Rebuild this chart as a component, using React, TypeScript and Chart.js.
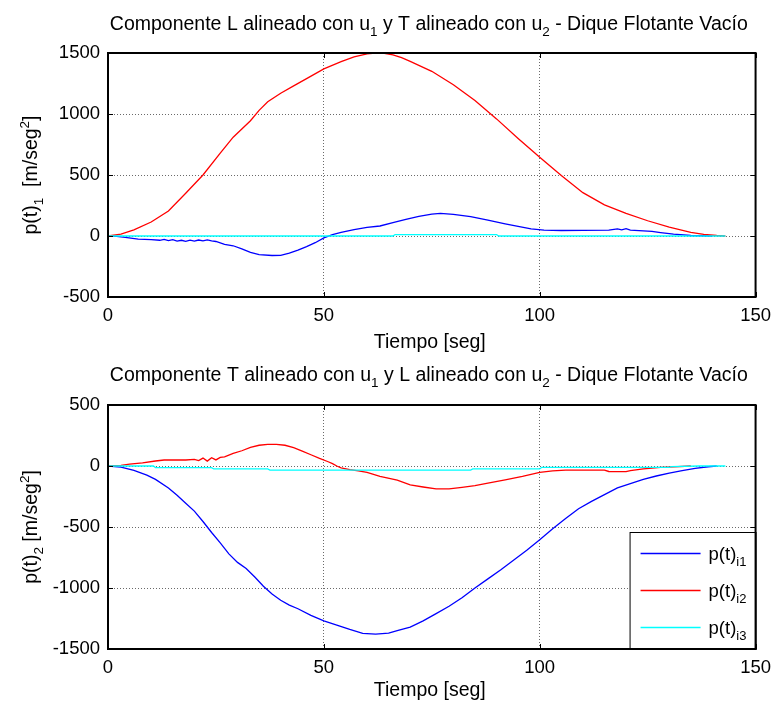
import React, { useEffect, useRef } from 'react';
import { Chart, registerables } from 'chart.js';

Chart.register(...registerables);

const FONT = '"Liberation Sans", Arial, Helvetica, sans-serif';

// ---------- axis ticks ----------
const xTickValues = [0, 50, 100, 150];
const topYTicks = [-500, 0, 500, 1000, 1500];
const bottomYTicks = [-1500, -1000, -500, 0, 500];

// ---------- top plot: p(t)_1 ----------
const topRedT = [0, 3, 6, 10, 14, 18, 22, 26, 29, 33, 35, 37, 40, 43, 46, 50, 54, 57, 60, 62, 64, 66, 68, 70, 75, 80, 85, 90, 95, 100, 105, 110, 115, 120, 125, 130, 135, 138, 141, 143];
const topRedV = [0, 15, 50, 115, 205, 350, 500, 680, 810, 945, 1030, 1100, 1170, 1230, 1290, 1370, 1430, 1468, 1492, 1499, 1497, 1485, 1462, 1432, 1350, 1240, 1110, 960, 800, 645, 495, 355, 255, 185, 125, 73, 30, 14, 4, 0];

const topBlueT = [0, 2, 4, 7, 10, 12, 13, 14, 15, 16, 17, 18, 19, 20, 21, 22, 23, 24, 25, 27, 29, 31, 33, 35, 38, 40, 42, 44, 46, 48, 50, 52, 54, 57, 60, 63, 66, 69, 72, 75, 77, 80, 84, 88, 92, 95, 98, 101, 105, 110, 116, 118, 119, 120, 121, 126, 128, 131, 135, 140];
const topBlueV = [0, -3, -11, -25, -30, -35, -28, -38, -30, -42, -35, -44, -34, -42, -33, -40, -32, -40, -45, -68, -80, -105, -135, -152, -160, -158, -141, -115, -87, -55, -15, 12, 30, 52, 70, 82, 110, 136, 160, 180, 185, 178, 158, 130, 100, 78, 58, 48, 45, 46, 48, 58, 50, 60, 48, 38, 28, 15, 4, 0];

const topCyanT = [0, 66, 66.5, 90, 90.5, 143];
const topCyanV = [0, 0, 12, 12, 0, 0];

// ---------- bottom plot: p(t)_2 ----------
const botBlueT = [0, 3, 6, 9, 11, 14, 16, 18, 20, 22, 24, 26, 28, 30, 32, 34, 36, 38, 40, 42, 44, 47, 50, 53, 56, 59, 62, 65, 67, 70, 73, 76, 79, 82, 85, 88, 91, 94, 97, 100, 103, 106, 109, 112, 115, 118, 121, 124, 127, 130, 133, 136, 139, 141];
const botBlueV = [0, -10, -35, -75, -110, -180, -240, -305, -370, -455, -545, -630, -720, -790, -840, -910, -985, -1050, -1100, -1140, -1170, -1225, -1270, -1305, -1340, -1372, -1378, -1370, -1350, -1320, -1270, -1210, -1150, -1080, -1000, -925, -850, -770, -690, -604, -515, -430, -350, -290, -235, -180, -145, -110, -82, -58, -38, -20, -6, 0];

const botRedT = [0, 3, 5, 8, 11, 13, 15, 18, 20, 21, 22, 23, 24, 25, 26, 27, 29, 31, 33, 35, 37, 39, 41, 43, 45, 47, 49, 51, 52, 53, 54, 56, 58, 60, 63, 67, 70, 73, 76, 79, 82, 85, 88, 92, 96, 100, 103, 106, 115, 116, 120, 121, 124, 128, 131, 135];
const botRedV = [0, 5, 15, 25, 41, 49, 50, 49, 55, 45, 65, 40, 68, 50, 70, 75, 103, 125, 152, 170, 178, 178, 170, 150, 122, 92, 62, 35, 20, 0, -15, -30, -40, -52, -85, -115, -155, -172, -188, -188, -175, -160, -140, -114, -85, -52, -40, -33, -33, -45, -46, -38, -24, -12, -7, 0];

const botCyanT = [0, 10.5, 11, 24, 24.5, 37, 37.5, 84, 84.5, 100, 100.5, 130, 130.5, 137, 143];
const botCyanV = [0, 0, -13, -13, -24, -24, -33, -33, -24, -24, -11, -11, -5, 0, 0];

const legendLabels = ['i1', 'i2', 'i3'];
const colors = ['#0000ff', '#ff0000', '#00ffff'];

type Seg = { t: string; s?: 'sub' | 'sup' };

function drawSegs(ctx: CanvasRenderingContext2D, segs: Seg[], x: number, y: number, size: number, subSize: number, align: 'center' | 'left') {
  const widths: number[] = [];
  let w = 0;
  for (const sg of segs) {
    ctx.font = `${sg.s ? subSize : size}px ${FONT}`;
    const m = ctx.measureText(sg.t).width;
    widths.push(m);
    w += m;
  }
  let cx = align === 'center' ? x - w / 2 : x;
  ctx.textAlign = 'left';
  ctx.textBaseline = 'alphabetic';
  segs.forEach((sg, i) => {
    ctx.font = `${sg.s ? subSize : size}px ${FONT}`;
    const dy = sg.s === 'sub' ? size * 0.33 : sg.s === 'sup' ? -size * 0.42 : 0;
    ctx.fillText(sg.t, cx, y + dy);
    cx += widths[i];
  });
}

function toXY(t: number[], v: number[]) {
  return t.map((x, i) => ({ x, y: v[i] }));
}

type Deco = {
  title: Seg[];
  yTitle: Seg[];
  titleY: number;
  xTitleY: number;
  legend: boolean;
};

function decoPlugin(d: Deco) {
  return {
    id: 'deco',
    afterDraw(chart: any) {
      const ctx: CanvasRenderingContext2D = chart.ctx;
      const a = chart.chartArea;
      const xs = chart.scales.x;
      const ys = chart.scales.y;
      ctx.save();
      ctx.fillStyle = '#000';
      ctx.strokeStyle = '#000';
      // inward tick marks on all four sides
      ctx.lineWidth = 1;
      ctx.beginPath();
      xs.ticks.forEach((tk: any) => {
        const px = Math.round(xs.getPixelForValue(tk.value)) + 0.5;
        ctx.moveTo(px, a.bottom);
        ctx.lineTo(px, a.bottom - 5);
        ctx.moveTo(px, a.top);
        ctx.lineTo(px, a.top + 5);
      });
      ys.ticks.forEach((tk: any) => {
        const py = Math.round(ys.getPixelForValue(tk.value)) + 0.5;
        ctx.moveTo(a.left, py);
        ctx.lineTo(a.left + 5, py);
        ctx.moveTo(a.right, py);
        ctx.lineTo(a.right - 5, py);
      });
      ctx.stroke();

      // legend
      if (d.legend) {
        const lw = 126;
        const lh = 117;
        const lx = a.right - lw;
        const ly = a.bottom - lh;
        ctx.fillStyle = '#fff';
        ctx.fillRect(lx, ly, lw, lh);
        ctx.lineWidth = 1;
        ctx.strokeStyle = '#000';
        ctx.strokeRect(lx + 0.5, ly + 0.5, lw, lh);
        legendLabels.forEach((lab, i) => {
          const yy = ly + 21 + i * 37;
          ctx.strokeStyle = colors[i];
          ctx.lineWidth = 1.3;
          ctx.beginPath();
          ctx.moveTo(lx + 11, yy + 0.5);
          ctx.lineTo(lx + 71, yy + 0.5);
          ctx.stroke();
          ctx.fillStyle = '#000';
          drawSegs(ctx, [{ t: 'p(t)' }, { t: lab, s: 'sub' }], lx + 79, yy + 7, 18.5, 13, 'left');
        });
      }

      // box
      ctx.strokeStyle = '#000';
      ctx.lineWidth = 2;
      ctx.strokeRect(a.left, a.top, a.right - a.left, a.bottom - a.top);

      // titles
      ctx.fillStyle = '#000';
      const cx = (a.left + a.right) / 2;
      drawSegs(ctx, d.title, cx - 3, d.titleY, 19.5, 13.5, 'center');
      drawSegs(ctx, [{ t: 'Tiempo [seg]' }], cx - 2, d.xTitleY, 19.5, 13, 'center');
      ctx.save();
      ctx.translate(37, (a.top + a.bottom) / 2);
      ctx.rotate(-Math.PI / 2);
      drawSegs(ctx, d.yTitle, 0, 0, 19.5, 13.5, 'center');
      ctx.restore();
      ctx.restore();
    },
  };
}

function makeConfig(series: { t: number[]; v: number[] }[], yMin: number, yMax: number, yTicks: number[], d: Deco): any {
  return {
    type: 'line',
    data: {
      datasets: series.map((s, i) => ({
        data: toXY(s.t, s.v),
        borderColor: colors[i],
        backgroundColor: colors[i],
        borderWidth: 1.3,
        pointRadius: 0,
        tension: 0,
        fill: false,
        order: 2 - i,
      })),
    },
    options: {
      animation: false,
      responsive: false,
      devicePixelRatio: 1,
      events: [],
      layout: { padding: { left: 0, right: 21, top: 53, bottom: 0 } },
      plugins: { legend: { display: false }, tooltip: { enabled: false }, title: { display: false } },
      scales: {
        x: {
          type: 'linear',
          min: 0,
          max: 150,
          afterFit: (s: any) => { s.height = 55; },
          afterBuildTicks: (s: any) => { s.ticks = xTickValues.map((v) => ({ value: v })); },
          ticks: { color: '#000', font: { family: FONT, size: 18.5 }, padding: 8, maxRotation: 0, autoSkip: false, callback: (v: any) => String(v) },
          grid: { color: '#6a6a6a', lineWidth: 1, drawTicks: false },
          border: { display: false, dash: [1, 2] },
        },
        y: {
          type: 'linear',
          min: yMin,
          max: yMax,
          afterFit: (s: any) => { s.width = 108; },
          afterBuildTicks: (s: any) => { s.ticks = yTicks.map((v) => ({ value: v })); },
          ticks: { color: '#000', font: { family: FONT, size: 18.5 }, padding: 8, autoSkip: false, callback: (v: any) => String(v) },
          grid: { color: '#6a6a6a', lineWidth: 1, drawTicks: false },
          border: { display: false, dash: [1, 2] },
        },
      },
    },
    plugins: [decoPlugin(d)],
  };
}

function Plot(props: { config: () => any; top: number }) {
  const ref = useRef<HTMLCanvasElement | null>(null);
  useEffect(() => {
    if (!ref.current) return;
    const ch = new Chart(ref.current, props.config());
    return () => ch.destroy();
  }, []);
  return (
    <canvas
      ref={ref}
      width={779}
      height={352}
      style={{ position: 'absolute', left: 0, top: props.top, width: 779, height: 352, display: 'block' }}
    />
  );
}

export default function App() {
  const topCfg = () =>
    makeConfig(
      [
        { t: topBlueT, v: topBlueV },
        { t: topRedT, v: topRedV },
        { t: topCyanT, v: topCyanV },
      ],
      -500,
      1500,
      topYTicks,
      {
        title: [
          { t: 'Componente L alineado con u' },
          { t: '1', s: 'sub' },
          { t: ' y T alineado con u' },
          { t: '2', s: 'sub' },
          { t: ' - Dique Flotante Vacío' },
        ],
        yTitle: [{ t: 'p(t)' }, { t: '1', s: 'sub' }, { t: '  [m/seg' }, { t: '2', s: 'sup' }, { t: ']' }],
        titleY: 30,
        xTitleY: 348,
        legend: false,
      }
    );
  const botCfg = () =>
    makeConfig(
      [
        { t: botBlueT, v: botBlueV },
        { t: botRedT, v: botRedV },
        { t: botCyanT, v: botCyanV },
      ],
      -1500,
      500,
      bottomYTicks,
      {
        title: [
          { t: 'Componente T alineado con u' },
          { t: '1', s: 'sub' },
          { t: ' y L alineado con u' },
          { t: '2', s: 'sub' },
          { t: ' - Dique Flotante Vacío' },
        ],
        yTitle: [{ t: 'p(t)' }, { t: '2', s: 'sub' }, { t: ' [m/seg' }, { t: '2', s: 'sup' }, { t: ']' }],
        titleY: 29,
        xTitleY: 344,
        legend: true,
      }
    );
  return (
    <div style={{ position: 'absolute', left: 0, top: 0, width: 779, height: 704, background: '#fff' }}>
      <Plot config={topCfg} top={0} />
      <Plot config={botCfg} top={352} />
    </div>
  );
}
